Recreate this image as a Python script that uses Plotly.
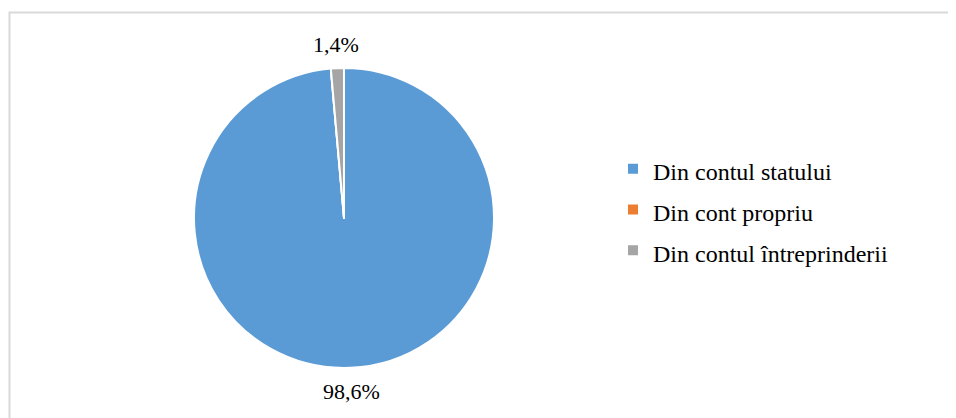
import math
import plotly.graph_objects as go

# Data
labels = ["Din contul statului", "Din cont propriu", "Din contul întreprinderii"]
values = [98.6, 0.0, 1.4]
colors = ["#5b9bd5", "#ed7d31", "#a5a5a5"]

W, H = 956, 418
FONT = "Times New Roman, Liberation Serif, DejaVu Serif, serif"
# the page body adds an 8px margin, so positions below are in figure coordinates
# (screen position minus 8px)
CX, CY, R = 336, 210, 150   # pie centre / radius in px (CY from top)
LABEL_GAP = 24              # Excel-style outside data labels, centred

# legend font is set larger than the visible text so rows get Word-like spacing
legend_labels = [f"<span style='font-size:24px'>{l}</span>" for l in labels]

fig = go.Figure(
    go.Pie(
        labels=legend_labels,
        values=values,
        sort=False,
        direction="clockwise",
        rotation=0,
        marker=dict(colors=colors, line=dict(color="white", width=2)),
        textinfo="none",
        hoverinfo="label+percent",
        domain=dict(x=[(CX - R) / W, (CX + R) / W], y=[(H - CY - R) / H, (H - CY + R) / H]),
    )
)

# data labels: centred on each slice's mid-angle, just outside the pie
total = sum(values)
cum = 0.0
for v in values:
    if v > 0:
        mid = (cum + v / 2) / total * 2 * math.pi
        d = R + LABEL_GAP
        pct = f"{v / total * 100:.1f}".replace(".", ",") + "%"
        fig.add_annotation(
            x=(CX + d * math.sin(mid)) / W,
            y=(H - CY + d * math.cos(mid)) / H,
            xref="paper", yref="paper",
            text=pct, showarrow=False,
            xanchor="center", yanchor="middle",
            font=dict(family=FONT, size=22, color="#000000"),
        )
    cum += v

fig.update_layout(
    width=W,
    height=H,
    margin=dict(l=0, r=0, t=0, b=0),
    paper_bgcolor="white",
    separators=", ",
    font=dict(family=FONT, color="#000000"),
    showlegend=True,
    legend=dict(
        x=605 / W,
        xanchor="left",
        y=1 - 202 / H,
        yanchor="middle",
        font=dict(family=FONT, size=29, color="#000000"),
        bgcolor="rgba(0,0,0,0)",
    ),
    # outer chart-area border (only top and left edges fall inside the picture)
    shapes=[
        dict(
            type="rect",
            xref="paper",
            yref="paper",
            x0=1.5 / W,
            x1=1.05,
            y0=-0.05,
            y1=1 - 4.5 / H,
            line=dict(color="#d9d9d9", width=2),
            layer="below",
        )
    ],
)

fig.write_html("out.html")
